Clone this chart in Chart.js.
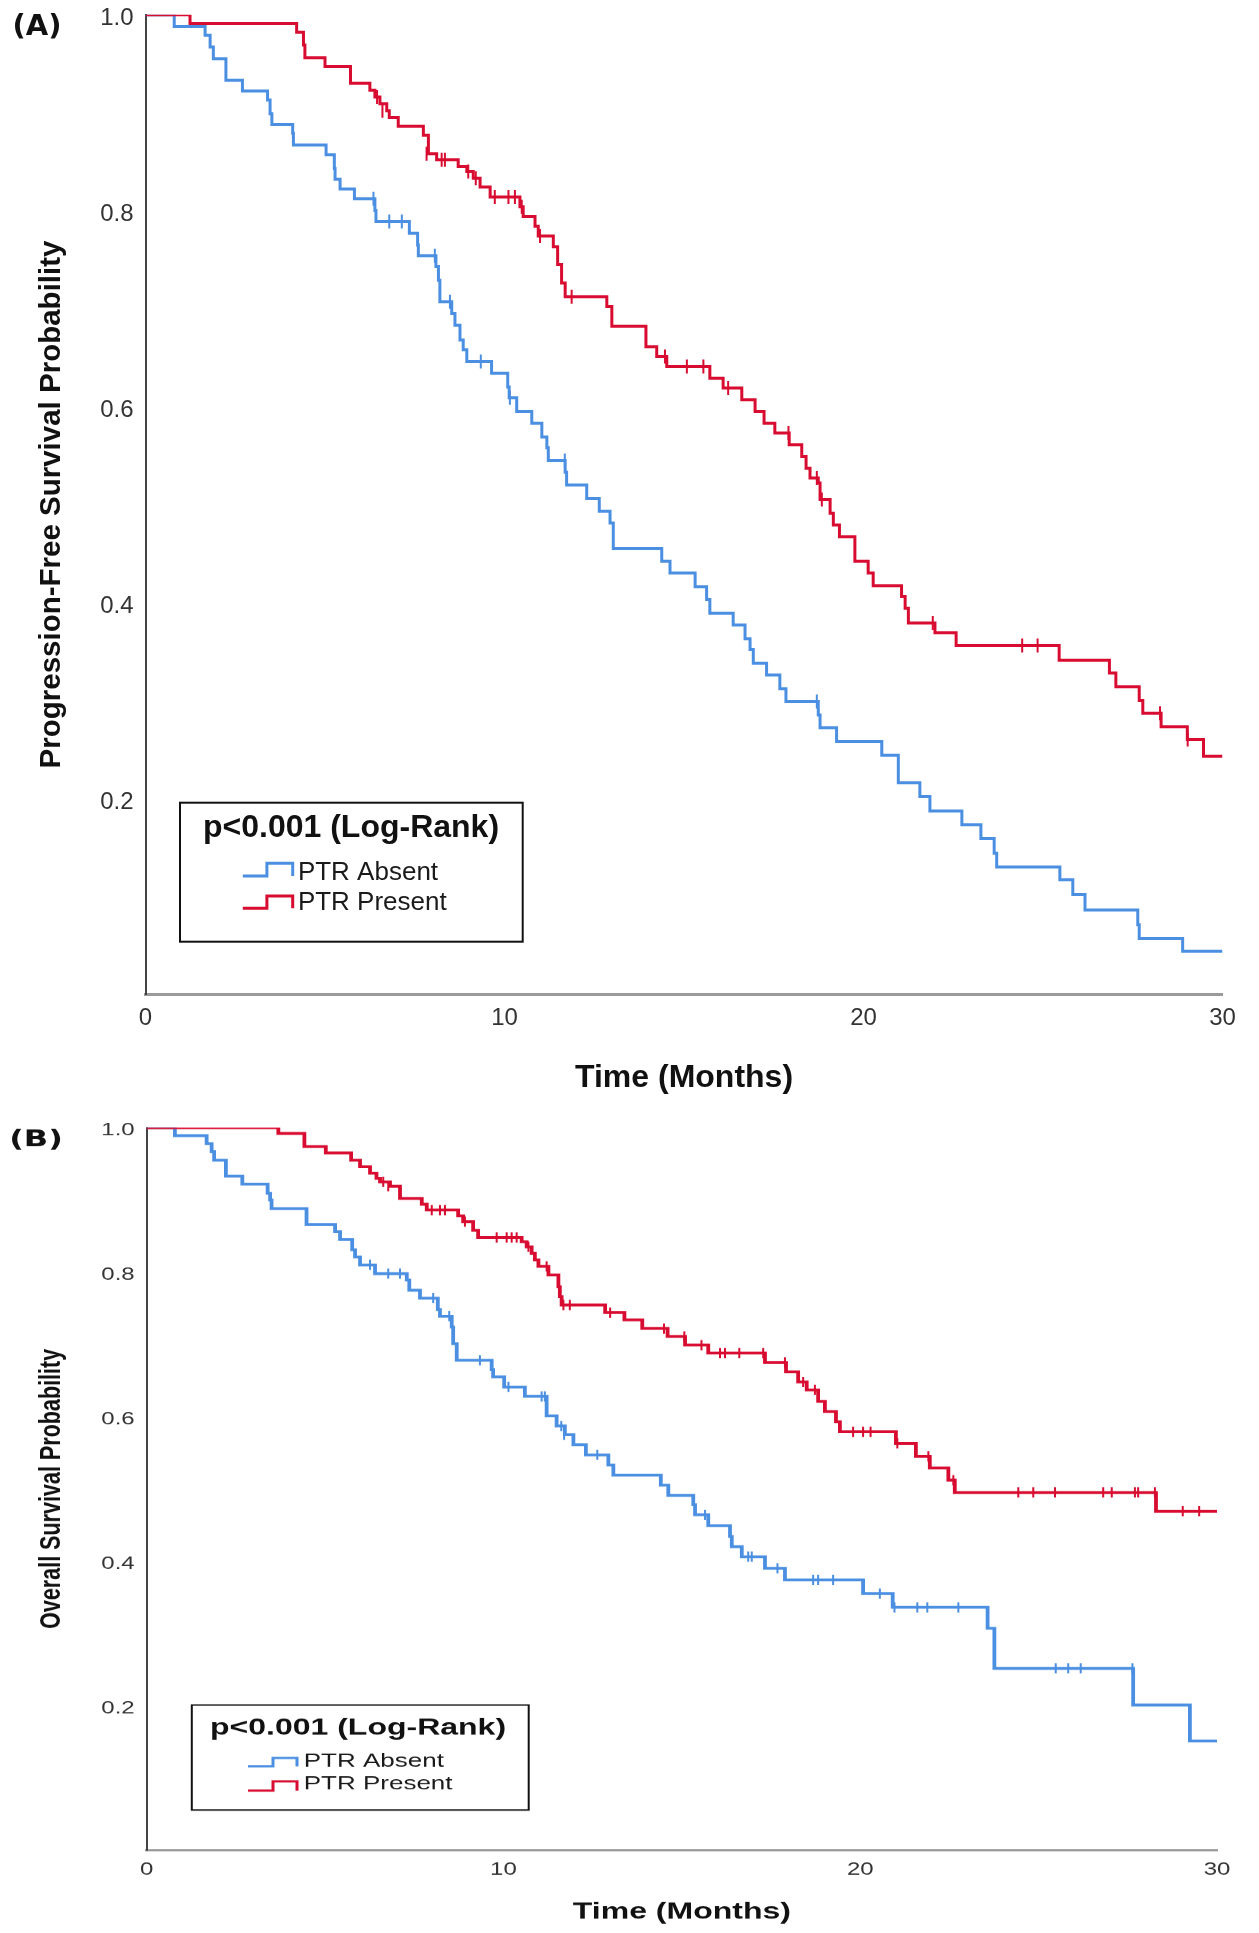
<!DOCTYPE html>
<html><head><meta charset="utf-8">
<script src="https://cdn.jsdelivr.net/npm/chart.js@4.4.1/dist/chart.umd.min.js"></script>
<style>
html,body{margin:0;padding:0;background:#fff;}
body{width:1259px;height:1933px;position:relative;overflow:hidden;}
#wa{position:absolute;left:0;top:0;width:1259px;height:1100px;}
#wb{position:absolute;left:0;top:1090px;width:1259px;height:1155px;transform:scaleY(0.73);transform-origin:0 0;}
canvas{display:block;}
</style></head><body>
<div id="wa"><canvas id="ca" width="1259" height="1100"></canvas></div>
<div id="wb"><canvas id="cb" width="1259" height="1155"></canvas></div>
<script>
// ---------- tick labels ----------
const xTickValues = [0, 10, 20, 30];
const xTickLabels = ['0', '10', '20', '30'];
const yTickValues = [0.2, 0.4, 0.6, 0.8, 1.0];
const yTickLabels = ['0.2', '0.4', '0.6', '0.8', '1.0'];
const seriesNames = ['PTR Absent', 'PTR Present'];
const legendTitle = 'p<0.001 (Log-Rank)';

// ---------- (A) Progression-free survival ----------
const pfsAbsentTime = [0, 0.80, 1.66, 1.80, 1.89, 2.24, 2.70, 3.40, 3.47, 3.52, 4.10, 4.12, 5.03, 5.26, 5.28, 5.42, 5.82, 6.39, 6.42, 7.35, 7.58, 7.60, 8.09, 8.16, 8.20, 8.53, 8.62, 8.76, 8.85, 8.95, 9.64, 10.09, 10.13, 10.34, 10.76, 11.04, 11.18, 11.22, 11.69, 11.73, 12.29, 12.64, 12.94, 13.03, 14.38, 14.61, 15.31, 15.63, 15.72, 16.37, 16.70, 16.84, 16.93, 17.30, 17.67, 17.84, 18.74, 18.79, 19.25, 20.51, 20.97, 21.57, 21.85, 22.74, 23.27, 23.64, 23.71, 25.47, 25.83, 26.17, 27.64, 27.68, 28.89, 30];
const pfsAbsentSurv = [1.0, 0.988, 0.979, 0.967, 0.955, 0.933, 0.922, 0.913, 0.899, 0.888, 0.879, 0.867, 0.857, 0.843, 0.832, 0.822, 0.812, 0.800, 0.789, 0.777, 0.765, 0.754, 0.743, 0.729, 0.707, 0.695, 0.683, 0.668, 0.658, 0.646, 0.634, 0.620, 0.609, 0.595, 0.583, 0.569, 0.558, 0.545, 0.533, 0.520, 0.506, 0.493, 0.481, 0.455, 0.442, 0.430, 0.416, 0.403, 0.389, 0.377, 0.363, 0.352, 0.338, 0.326, 0.312, 0.299, 0.285, 0.272, 0.258, 0.244, 0.216, 0.202, 0.187, 0.173, 0.159, 0.144, 0.130, 0.117, 0.102, 0.086, 0.071, 0.057, 0.044, 0.044];
const pfsPresentTime = [0, 1.24, 4.21, 4.40, 4.44, 5.00, 5.71, 6.25, 6.39, 6.53, 6.72, 6.79, 7.04, 7.74, 7.88, 8.11, 8.71, 8.95, 9.13, 9.32, 9.60, 10.43, 10.52, 10.85, 10.94, 11.36, 11.48, 11.59, 11.69, 12.85, 12.99, 13.94, 14.24, 14.52, 15.72, 16.09, 16.61, 16.98, 17.23, 17.53, 17.93, 18.28, 18.40, 18.51, 18.74, 18.79, 19.07, 19.16, 19.33, 19.76, 20.13, 20.27, 21.06, 21.16, 21.25, 21.99, 22.58, 25.45, 26.85, 27.03, 27.68, 27.78, 28.29, 29.02, 29.47, 30];
const pfsPresentSurv = [1.0, 0.991, 0.982, 0.969, 0.956, 0.947, 0.930, 0.923, 0.916, 0.909, 0.902, 0.895, 0.886, 0.877, 0.858, 0.852, 0.845, 0.840, 0.833, 0.824, 0.814, 0.804, 0.794, 0.784, 0.774, 0.763, 0.745, 0.726, 0.712, 0.702, 0.682, 0.661, 0.651, 0.641, 0.629, 0.619, 0.607, 0.595, 0.583, 0.573, 0.561, 0.549, 0.537, 0.527, 0.522, 0.505, 0.491, 0.479, 0.467, 0.442, 0.430, 0.417, 0.406, 0.394, 0.379, 0.369, 0.356, 0.341, 0.328, 0.314, 0.300, 0.287, 0.273, 0.260, 0.243, 0.243];
const pfsAbsentCensTime = [6.35, 6.79, 7.14, 8.06, 8.48, 9.34, 10.15, 11.68, 18.70, 20.51];
const pfsAbsentCensSurv = [0.812, 0.789, 0.789, 0.754, 0.707, 0.646, 0.609, 0.545, 0.299, 0.251];
const pfsPresentCensTime = [6.45, 6.60, 7.83, 8.25, 8.34, 8.99, 9.20, 9.73, 10.11, 10.29, 10.48, 10.99, 11.87, 14.47, 15.08, 15.54, 16.23, 17.91, 18.70, 18.84, 21.93, 24.42, 24.85, 28.26, 29.03];
const pfsPresentCensSurv = [0.916, 0.902, 0.858, 0.852, 0.852, 0.840, 0.833, 0.814, 0.814, 0.814, 0.804, 0.774, 0.712, 0.651, 0.641, 0.641, 0.619, 0.573, 0.527, 0.505, 0.379, 0.356, 0.356, 0.287, 0.260];

// ---------- (B) Overall survival ----------
const osAbsentTime = [0, 0.79, 1.68, 1.82, 1.89, 2.22, 2.68, 3.39, 3.46, 3.50, 4.48, 5.28, 5.42, 5.76, 5.84, 5.98, 6.40, 7.29, 7.36, 7.66, 8.16, 8.22, 8.55, 8.59, 8.69, 9.67, 9.71, 10.02, 10.60, 11.21, 11.49, 11.72, 11.96, 12.31, 12.94, 13.08, 14.41, 14.62, 15.32, 15.37, 15.74, 16.35, 16.40, 16.68, 17.33, 17.89, 20.08, 20.91, 23.57, 23.76, 27.65, 29.24, 30];
const osAbsentSurv = [1.0, 0.989, 0.978, 0.967, 0.955, 0.933, 0.922, 0.909, 0.900, 0.888, 0.866, 0.856, 0.845, 0.831, 0.821, 0.810, 0.798, 0.789, 0.775, 0.764, 0.748, 0.739, 0.724, 0.701, 0.678, 0.665, 0.655, 0.641, 0.628, 0.601, 0.587, 0.575, 0.561, 0.547, 0.533, 0.519, 0.505, 0.491, 0.478, 0.464, 0.449, 0.434, 0.420, 0.406, 0.390, 0.374, 0.355, 0.336, 0.307, 0.2515, 0.2007, 0.151, 0.151];
const osPresentTime = [0, 3.69, 4.42, 5.02, 5.73, 5.98, 6.26, 6.44, 6.54, 6.82, 7.10, 7.71, 7.85, 8.73, 8.87, 9.15, 9.29, 10.51, 10.65, 10.79, 10.88, 10.98, 11.26, 11.54, 11.58, 11.63, 12.85, 13.39, 13.89, 14.60, 15.09, 15.74, 17.33, 17.92, 18.26, 18.50, 18.82, 19.01, 19.32, 19.43, 21.00, 21.56, 21.95, 22.47, 22.65, 28.29, 30];
const osPresentSurv = [1.0, 0.992, 0.974, 0.965, 0.955, 0.946, 0.937, 0.930, 0.925, 0.919, 0.902, 0.894, 0.886, 0.878, 0.870, 0.858, 0.848, 0.842, 0.835, 0.826, 0.817, 0.808, 0.796, 0.780, 0.766, 0.7545, 0.744, 0.734, 0.722, 0.711, 0.699, 0.688, 0.675, 0.662, 0.648, 0.637, 0.621, 0.607, 0.593, 0.579, 0.563, 0.545, 0.529, 0.512, 0.495, 0.469, 0.469];
const osAbsentCensTime = [6.26, 6.77, 7.10, 8.03, 8.48, 9.34, 10.14, 11.07, 11.16, 11.62, 11.70, 12.63, 15.65, 16.86, 16.96, 17.68, 18.68, 18.82, 19.24, 20.55, 20.96, 21.60, 21.88, 22.75, 25.48, 25.83, 26.18, 27.63];
const osAbsentCensSurv = [0.810, 0.798, 0.798, 0.764, 0.739, 0.678, 0.641, 0.628, 0.628, 0.587, 0.575, 0.547, 0.464, 0.406, 0.406, 0.390, 0.374, 0.374, 0.374, 0.355, 0.336, 0.336, 0.336, 0.336, 0.2515, 0.2515, 0.2515, 0.2515];
const osPresentCensTime = [6.63, 6.77, 7.99, 8.22, 8.36, 8.92, 9.81, 10.09, 10.23, 10.37, 10.70, 11.21, 11.68, 11.86, 12.99, 14.50, 15.07, 15.55, 16.07, 16.21, 16.61, 17.28, 17.89, 18.40, 18.73, 19.80, 20.08, 20.29, 21.04, 21.91, 22.61, 24.43, 24.85, 25.46, 26.81, 27.05, 27.70, 27.79, 28.26, 29.04, 29.50];
const osPresentCensSurv = [0.925, 0.919, 0.886, 0.886, 0.886, 0.870, 0.848, 0.848, 0.848, 0.848, 0.835, 0.808, 0.7545, 0.7545, 0.744, 0.722, 0.711, 0.699, 0.688, 0.688, 0.688, 0.688, 0.675, 0.648, 0.637, 0.579, 0.579, 0.579, 0.563, 0.545, 0.512, 0.495, 0.495, 0.495, 0.495, 0.495, 0.495, 0.495, 0.495, 0.469, 0.469];

// ---------- styling ----------
const BLUE = '#4b8fe2';
const RED = '#d80c30';
const FONT = "'Liberation Sans', Arial, sans-serif";

const pts = (t, s) => t.map((x, i) => ({x: x, y: s[i]}));

function lineDs(label, t, s, color, w) {
  return {label, data: pts(t, s), borderColor: color, backgroundColor: color, borderWidth: w,
    stepped: true, pointRadius: 0, pointHoverRadius: 0, fill: false, tension: 0};
}
function censDs(label, t, s, color) {
  return {label, data: pts(t, s), showLine: false, pointStyle: 'line', pointRotation: 90,
    pointRadius: 7, pointHoverRadius: 7, pointBorderWidth: 2, borderColor: color,
    pointBorderColor: color, backgroundColor: color};
}

function decor(d) {
  return {
    id: 'decor',
    afterDraw(chart) {
      const ctx = chart.ctx;
      ctx.save();
      ctx.fillStyle = '#111';
      ctx.textBaseline = 'middle';
      ctx.textAlign = 'center';
      ctx.font = 'bold ' + d.panelSize + "px 'DejaVu Sans', sans-serif";
      ctx.fillText(d.panel, d.panelX, d.panelY);
      // legend box
      ctx.strokeStyle = '#111';
      ctx.lineWidth = 2;
      ctx.strokeRect(d.box[0], d.box[1], d.box[2], d.box[3]);
      ctx.font = 'bold 32px ' + FONT;
      ctx.fillStyle = '#111';
      ctx.fillText(legendTitle, d.titleX, d.titleY);
      const cols = [BLUE, RED];
      ctx.font = '26px ' + FONT;
      ctx.textAlign = 'left';
      for (let i = 0; i < 2; i++) {
        const it = d.items[i];
        ctx.strokeStyle = cols[i];
        ctx.lineWidth = 3;
        ctx.beginPath();
        ctx.moveTo(d.iconX[0], it.low);
        ctx.lineTo(d.iconX[1], it.low);
        ctx.lineTo(d.iconX[1], it.high);
        ctx.lineTo(d.iconX[2], it.high);
        ctx.lineTo(d.iconX[2], it.low);
        ctx.stroke();
        ctx.fillStyle = '#1a1a1a';
        ctx.fillText(seriesNames[i], d.textX, it.y);
      }
      ctx.restore();
    }
  };
}

function build(id, c) {
  const grid = {display: true, color: 'rgba(0,0,0,0)', drawTicks: false};
  return new Chart(document.getElementById(id), {
    type: 'line',
    data: {datasets: [
      censDs('PTR Present censored', c.pc[0], c.pc[1], RED),
      censDs('PTR Absent censored', c.ac[0], c.ac[1], BLUE),
      lineDs(seriesNames[1], c.p[0], c.p[1], RED, c.lw),
      lineDs(seriesNames[0], c.a[0], c.a[1], BLUE, c.lw)
    ]},
    options: {
      responsive: false,
      animation: false,
      events: [],
      layout: {padding: {left: 0, right: c.padR, top: c.padT, bottom: c.padB}},
      plugins: {legend: {display: false}, tooltip: {enabled: false}},
      scales: {
        x: {
          type: 'linear', min: 0, max: 30,
          afterBuildTicks: s => { s.ticks = xTickValues.map(v => ({value: v})); },
          afterFit: s => { s.height = c.xH; s.paddingLeft = 0; s.paddingRight = 0; },
          grid: grid,
          border: {display: true, color: '#9a9a9a', width: 3},
          ticks: {padding: c.xPad, color: '#333', font: {family: FONT, size: 24},
            maxRotation: 0, autoSkip: false, callback: (v, i) => xTickLabels[i]},
          title: {display: true, text: 'Time (Months)', color: '#111',
            font: {family: FONT, size: 32, weight: 'bold'}, padding: {top: 0, bottom: 0}}
        },
        y: {
          type: 'linear', min: 0, max: 1,
          afterBuildTicks: s => { s.ticks = yTickValues.map(v => ({value: v})); },
          afterFit: s => { s.width = c.yW; s.paddingTop = 0; s.paddingBottom = 0; },
          grid: grid,
          border: {display: true, color: '#444', width: 2},
          ticks: {padding: 12, labelOffset: 4, color: '#333', font: {family: FONT, size: 24},
            autoSkip: false, callback: (v, i) => yTickLabels[i]},
          title: {display: true, text: c.yTitle, color: '#111',
            font: {family: FONT, size: 29.5, weight: 'bold'}, padding: {top: 34, bottom: 0}}
        }
      }
    },
    plugins: [decor(c.decor)]
  });
}

build('ca', {
  a: [pfsAbsentTime, pfsAbsentSurv], p: [pfsPresentTime, pfsPresentSurv],
  ac: [pfsAbsentCensTime, pfsAbsentCensSurv], pc: [pfsPresentCensTime, pfsPresentCensSurv],
  lw: 3, padR: 36.5, padT: 14.7, padB: 2.7, xH: 103, xPad: 10, yW: 145.5,
  yTitle: 'Progression-Free Survival Probability',
  decor: {panel: '(A)', panelSize: 29, panelX: 37, panelY: 27, box: [180, 802.7, 342.7, 139],
    titleX: 351, titleY: 828.3, iconX: [242.8, 266.9, 292.7], textX: 297.9,
    items: [{y: 873.3, low: 876, high: 863.3}, {y: 903.3, low: 908.3, high: 896}]}
});

build('cb', {
  a: [osAbsentTime, osAbsentSurv], p: [osPresentTime, osPresentSurv],
  ac: [osAbsentCensTime, osAbsentCensSurv], pc: [osPresentCensTime, osPresentCensSurv],
  lw: 3.8, padR: 42, padT: 51.6, padB: 9.6, xH: 104.3, xPad: 13, yW: 146.7,
  yTitle: 'Overall Survival Probability',
  decor: {panel: '(B)', panelSize: 32, panelX: 36, panelY: 69, box: [191.8, 842.5, 336.9, 143.8],
    titleX: 358, titleY: 874.4, iconX: [248, 273, 297], textX: 303.7,
    items: [{y: 920.1, low: 926.4, high: 915}, {y: 950.7, low: 959.8, high: 947}]}
});
</script>
</body></html>
